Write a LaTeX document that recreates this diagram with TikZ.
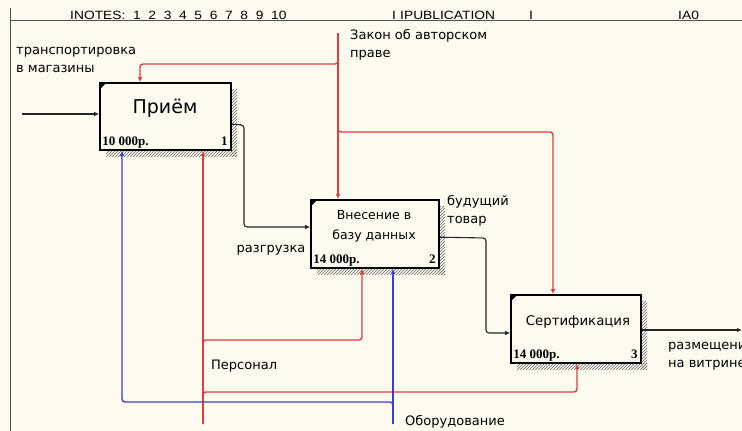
\documentclass[tikz,border=0pt]{standalone}
\usepackage{fontspec}
\setmainfont{DejaVu Sans}
\newfontfamily\costfont{Liberation Serif}
\newfontfamily\headfont{Liberation Sans}
\usetikzlibrary{arrows.meta,patterns,calc}
\definecolor{bgcream}{RGB}{253,250,240}
\definecolor{ctrlred}{RGB}{226,60,60}
\definecolor{mechblue}{RGB}{60,60,215}
\definecolor{framegray}{RGB}{80,80,80}
\tikzset{
  box/.style={draw=black, line width=1.6pt, fill=bgcream, inner sep=0pt},
  flow/.style={draw=black!85, line width=1.1pt, rounded corners=3pt, -{Latex[length=5pt,width=4.5pt]}},
  ctrl/.style={draw=ctrlred, line width=1.4pt, rounded corners=3pt, -{Latex[length=5pt,width=4.5pt]}},
  mech/.style={draw=mechblue, line width=1.4pt, rounded corners=3pt, -{Latex[length=5pt,width=4.5pt]}},
  lbl/.style={font=\fontsize{13}{18.5}\selectfont, align=left, inner sep=0pt},
  cost/.style={font=\costfont\bfseries\fontsize{13}{14}\selectfont, inner sep=0pt},
  hdr/.style={font=\headfont\fontsize{12}{12}\selectfont, inner sep=0pt, anchor=base west, xscale=1.15},
  shadow/.style={pattern=north east lines, pattern color=black!60, draw=none}
}
\newcommand{\idefbox}[5]{% name, x1, y1, x2, y2
  \fill[shadow] (#4,#3+6) rectangle (#4+6,#5+6);
  \fill[shadow] (#2+6,#5) rectangle (#4+6,#5+6);
  \node[box, minimum width={(#4-#2)*1pt}, minimum height={(#5-#3)*1pt}] (#1) at ({(#2+#4)/2},{(#3+#5)/2}) {};
  \fill[black] (#2,#3) -- (#2+6,#3) -- (#2,#3+6) -- cycle;
}
\begin{document}
\begin{tikzpicture}[x=1pt,y=-1pt]
\clip (0,0) rectangle (742,431);
\fill[bgcream] (0,0) rectangle (742,431);
% frame
\draw[framegray, line width=1pt] (10,8) -- (10,431);
\draw[framegray, line width=1pt] (10,20.5) -- (742,20.5);
\node[hdr] (hnotes) at (70,19.5) {INOTES:\ \ 1\ \ 2\ \ 3\ \ 4\ \ 5\ \ 6\ \ 7\ \ 8\ \ 9\ \ 10};
\node[hdr] (hbar1) at (392,19.5) {I};
\node[hdr] (hpub) at (400,19.5) {IPUBLICATION};
\node[hdr] (hbar2) at (529,19.5) {I};
\node[hdr] (ha0) at (678,19.5) {IA0};

% boxes
\idefbox{b1}{100}{83}{231}{150}
\idefbox{b2}{311}{200}{439}{268}
\idefbox{b3}{511}{295}{641}{363}

\node[font=\fontsize{19}{22}\selectfont, inner sep=0pt] (t1) at (165,108) {Приём};
\node[font=\fontsize{12.5}{20}\selectfont, align=center, inner sep=0pt] (t2) at (374,226) {Внесение в\\базу данных};
\node[font=\fontsize{13.3}{15}\selectfont, inner sep=0pt] (t3) at (578,322) {Сертификация};

\node[cost, anchor=base west] (c1) at ($(b1.south west)+(3,-5)$) {10 000р.};
\node[cost, anchor=base east] (n1) at ($(b1.south east)+(-4,-5)$) {1};
\node[cost, anchor=base west] (c2) at ($(b2.south west)+(3,-5)$) {14 000р.};
\node[cost, anchor=base east] (n2) at ($(b2.south east)+(-4,-5)$) {2};
\node[cost, anchor=base west] (c3) at ($(b3.south west)+(3,-5)$) {14 000р.};
\node[cost, anchor=base east] (n3) at ($(b3.south east)+(-4,-5)$) {3};

% coordinates
\coordinate (inL) at (22,114);
\coordinate (zTop) at (338,33);
\coordinate (zJ1) at (338,64);
\coordinate (zJ2) at (338,132);
\coordinate (persStart) at (203,424);
\coordinate (pJ1) at (203,340);
\coordinate (pJ2) at (203,392);
\coordinate (eqStart) at (393,424);
\coordinate (oJ) at (393,402);
\coordinate (outR) at (742,330);

% input / outputs
\draw[flow] (inL) -- (inL -| b1.west);
\draw[flow] ($(b1.north east)+(0,42)$) -- (244,125) -- (244,227) -- (b2.west |- 0,227);
\draw[flow] ($(b2.north east)+(0,38)$) -- (486,238) -- (486,333) -- (b3.west |- 0,333);
\draw[flow] (b3.east |- outR) -- (outR);

% controls
\draw[ctrl] (zTop) -- (zTop |- b2.north);
\draw[ctrl] (zTop) -- (zJ1) -- (140,64) -- (140,64 |- b1.north);
\draw[ctrl] (zTop) -- (zJ2) -- (553,132) -- (553,132 |- b3.north);

% mechanisms: personnel
\draw[ctrl] (persStart) -- (persStart |- b1.south);
\draw[ctrl] (persStart) -- (pJ1) -- (362,340) -- (362,340 |- b2.south);
\draw[ctrl] (persStart) -- (pJ2) -- (577,392) -- (577,392 |- b3.south);
% equipment
\draw[mech] (eqStart) -- (eqStart |- b2.south);
\draw[mech] (eqStart) -- (oJ) -- (122,402) -- (122,402 |- b1.south);

% labels
\node[lbl, anchor=north west] (ltr) at (16,47) {транспортировка\\в магазины};
\node[lbl, anchor=north west] (lzak) at (350,29) {Закон об авторском\\праве};
\node[lbl, anchor=center] (lraz) at (271,250) {разгрузка};
\node[lbl, anchor=north west] (lbud) at (447,195) {будущий\\товар};
\node[lbl, anchor=north west] (lraz2) at (668,342) {размещение\\на витрине};
\node[lbl, anchor=west] (lpers) at (211,366) {Персонал};
\node[lbl, anchor=west] (lob) at (405,422) {Оборудование};
\end{tikzpicture}
\end{document}
